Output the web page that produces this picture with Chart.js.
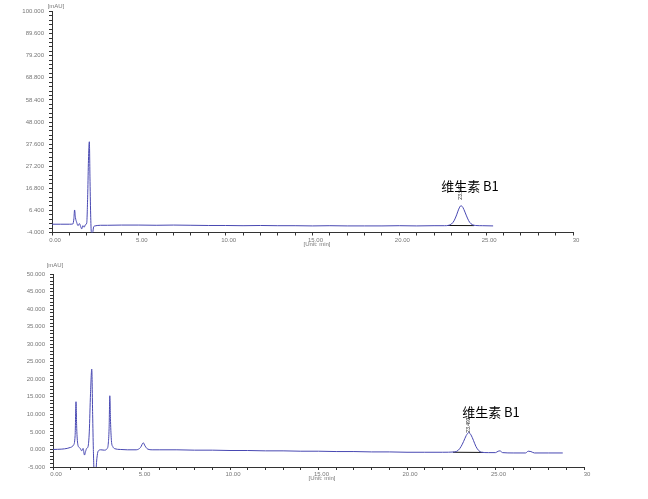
<!DOCTYPE html>
<html><head><meta charset="utf-8">
<script src="https://cdn.jsdelivr.net/npm/chart.js@4"></script>
<style>
html,body{margin:0;padding:0;background:#fff;width:648px;height:499px;overflow:hidden}
canvas{position:absolute;left:0}
#c1{top:0}
#c2{top:250px}
</style></head><body>
<canvas id="c1" width="648" height="250" style="width:648px;height:250px"></canvas>
<canvas id="c2" width="648" height="249" style="width:648px;height:249px"></canvas>
<script>
// ---------- data: chromatogram 1 (top) ----------
const time1 = [0, 0.5, 1.0, 1.2, 1.26, 1.3, 1.35, 1.42, 1.5, 1.58, 1.65, 1.71, 1.78, 1.85, 1.93, 2.0, 2.06, 2.1, 2.15, 2.19, 2.23, 2.27, 2.34, 2.4, 2.48, 2.6, 2.8, 3.2, 4, 5, 6, 7, 8, 9, 10, 11, 12, 13, 14, 15, 16, 17, 18, 19, 20, 21, 22, 22.6, 22.85, 23.0, 23.15, 23.3, 23.42, 23.55, 23.66, 23.78, 23.92, 24.05, 24.2, 24.4, 24.8, 25.4];
const signal1 = [-0.1, -0.1, -0.1, 0.0, 2.5, 6.6, 3.0, 0.8, -0.8, 0.2, -1.2, -2.3, -0.8, -1.5, -0.3, 0.5, 15, 30, 38.7, 20, 3, -4, -4, -1.3, -0.9, -0.7, -0.6, -0.6, -0.5, -0.5, -0.6, -0.5, -0.6, -0.7, -0.7, -0.8, -0.7, -0.8, -0.8, -0.9, -0.8, -0.9, -0.9, -0.9, -0.8, -0.9, -0.8, -0.8, -0.6, 0.0, 1.5, 4.3, 7.0, 8.6, 7.8, 5.6, 2.8, 0.8, -0.3, -0.7, -0.8, -0.9];
const baseT1 = [22.8, 24.3];
const baseV1 = [-0.7, -0.75];
const yLabels1 = [-4, 6.4, 16.8, 27.2, 37.6, 48, 58.4, 68.8, 79.2, 89.6, 100];

// ---------- data: chromatogram 2 (bottom) ----------
const time2 = [0, 0.5, 0.8, 1.0, 1.15, 1.25, 1.3, 1.34, 1.4, 1.48, 1.55, 1.62, 1.7, 1.78, 1.84, 1.9, 1.98, 2.05, 2.12, 2.19, 2.24, 2.28, 2.33, 2.4, 2.48, 2.55, 2.7, 2.9, 3.05, 3.12, 3.17, 3.21, 3.25, 3.3, 3.38, 3.5, 3.8, 4.2, 4.7, 4.95, 5.1, 5.2, 5.35, 5.6, 6, 7, 8, 9, 10, 11, 12, 13, 14, 15, 16, 17, 18, 19, 20, 21, 22, 22.7, 22.9, 23.05, 23.2, 23.35, 23.49, 23.62, 23.76, 23.9, 24.05, 24.2, 24.6, 25.0, 25.15, 25.25, 25.4, 26.0, 26.7, 26.85, 27.0, 27.2, 28.0, 28.8];
const signal2 = [0, 0.1, 0.3, 0.6, 1.2, 4, 13.6, 6, 1.5, 0.6, 0.2, -0.4, 0.3, -1.6, -0.6, 0.3, 0.8, 5, 16, 22.9, 10, 0, -7, -7, -2.5, -0.5, -0.1, -0.2, 0.2, 1.5, 6, 15.3, 8, 2.5, 0.8, 0.2, 0, -0.1, -0.1, 0.6, 1.9, 1.0, 0.1, -0.1, -0.1, -0.1, -0.2, -0.2, -0.3, -0.3, -0.4, -0.4, -0.5, -0.5, -0.6, -0.6, -0.7, -0.7, -0.8, -0.8, -0.8, -0.7, -0.2, 0.8, 2.3, 4.0, 4.8, 4.1, 2.5, 0.8, -0.3, -0.8, -0.9, -0.9, -0.5, -0.4, -0.9, -1.0, -1.0, -0.5, -0.6, -1.0, -1.0, -1.0];
const baseT2 = [22.6, 24.3];
const baseV2 = [-0.8, -0.85];
const yLabels2 = [-5, 0, 5, 10, 15, 20, 25, 30, 35, 40, 45, 50];

// ---------- shared x axis ----------
const xLabelValues = [0, 5, 10, 15, 20, 25, 30];
const xLabelTexts = ['0.00', '5.00', '10.00', '15.00', '20.00', '25.00', '30'];
const peakName = '维生素 B1';
const peakRT1 = '23.547';
const peakRT2 = '23.493';

const LINE = '#4848b2';
const TXT = '#777';
const AX = '#333';
const FONT = 'Liberation Sans, Arial, sans-serif';

function minorTicks(majors, div) {
  const out = [];
  for (let i = 0; i < majors.length - 1; i++) {
    const a = majors[i], b = majors[i + 1];
    for (let k = 0; k < div; k++) out.push(a + (b - a) * k / div);
  }
  out.push(majors[majors.length - 1]);
  return out;
}
const xTicks = [];
for (let v = 0; v <= 30; v++) xTicks.push(v);

function makeChart(id, times, vals, bt, bv, yLabels, yDiv, L, annot) {
  const yTicks = minorTicks(yLabels, yDiv);
  const textPlugin = {
    id: 'txt' + id,
    afterDraw(chart) {
      const c = chart.ctx;
      c.save();
      c.fillStyle = TXT;
      c.font = '6px ' + FONT;
      c.textAlign = 'center';
      c.textBaseline = 'middle';
      c.fillText('[mAU]', annot.mau[0], annot.mau[1]);
      c.fillText('[Unit: min]', annot.unit[0], annot.unit[1]);
      c.fillStyle = '#000';
      c.font = '13px "Noto Sans CJK SC", sans-serif';
      c.fillText(peakName, annot.name[0], annot.name[1]);
      c.translate(annot.rt[0], annot.rt[1]);
      c.rotate(-Math.PI / 2);
      c.font = '5px ' + FONT;
      c.fillStyle = '#222';
      c.fillText(annot.rtText, 0, 0);
      c.restore();
    }
  };
  return new Chart(document.getElementById(id), {
    type: 'line',
    data: {
      datasets: [
        { data: times.map((t, i) => ({ x: t, y: vals[i] })), borderColor: LINE, borderWidth: 1, pointRadius: 0, fill: false, cubicInterpolationMode: 'monotone' },
        { data: bt.map((t, i) => ({ x: t, y: bv[i] })), borderColor: '#111', borderWidth: 1, pointRadius: 0, fill: false }
      ]
    },
    options: {
      responsive: false,
      animation: false,
      events: [],
      layout: { padding: { left: 0, right: L.right, top: L.top, bottom: 0 } },
      plugins: { legend: { display: false }, tooltip: { enabled: false } },
      scales: {
        x: {
          type: 'linear', min: 0, max: 30,
          afterBuildTicks: s => { s.ticks = xTicks.map(v => ({ value: v })); },
          afterFit: s => { s.height = L.xh; },
          grid: { drawOnChartArea: false, tickLength: 3, color: AX },
          border: { color: AX, width: 1 },
          ticks: {
            autoSkip: false, maxRotation: 0, padding: 1, labelOffset: 3,
            color: TXT, font: { size: 6, family: FONT },
            callback: v => { const i = xLabelValues.indexOf(v); return i >= 0 ? xLabelTexts[i] : ''; }
          }
        },
        y: {
          type: 'linear', min: yLabels[0], max: yLabels[yLabels.length - 1],
          afterBuildTicks: s => { s.ticks = yTicks.map(v => ({ value: v })); },
          afterFit: s => { s.width = L.yw; },
          grid: { drawOnChartArea: false, tickLength: 3, color: AX },
          border: { color: AX, width: 1 },
          ticks: {
            autoSkip: false, padding: 5,
            color: TXT, font: { size: 6, family: FONT },
            callback: v => { const m = yLabels.find(l => Math.abs(l - v) < 1e-6); return m === undefined ? '' : m.toFixed(3); }
          }
        }
      }
    },
    plugins: [textPlugin]
  });
}

makeChart('c1', time1, signal1, baseT1, baseV1, yLabels1, 5,
  { right: 75, top: 11.5, xh: 17.5, yw: 52 },
  { mau: [56, 6], unit: [317, 244], name: [470, 186], rt: [461, 192], rtText: peakRT1 });
makeChart('c2', time2, signal2, baseT2, baseV2, yLabels2, 5,
  { right: 64, top: 24, xh: 32, yw: 53 },
  { mau: [55, 15], unit: [322, 228], name: [491, 162], rt: [469, 175], rtText: peakRT2 });
</script>
</body></html>
